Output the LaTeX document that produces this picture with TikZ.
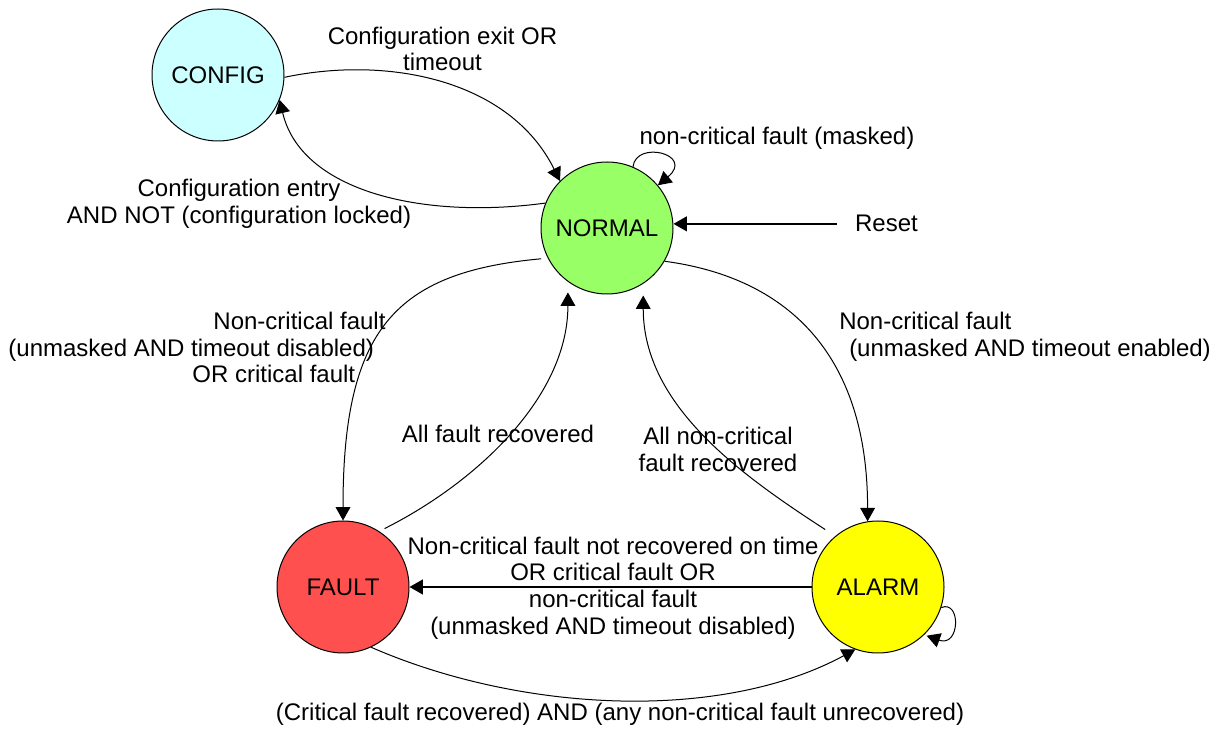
\documentclass[tikz,border=0pt]{standalone}
\usepackage{fontspec}
\setmainfont{Liberation Sans}
\usetikzlibrary{arrows.meta}
\begin{document}
\begin{tikzpicture}[x=0.75pt,y=0.75pt,
  txt/.style={font=\fontsize{18}{20.1}\selectfont},
  state/.style={circle,draw=black,line width=0.75pt,minimum size=99pt,inner sep=0pt,txt},
  lbl/.style={inner sep=0pt,txt},
  edge/.style={line width=0.75pt,-{Triangle[length=10pt,width=11pt]}},
  bold edge/.style={line width=1.5pt,-{Triangle[length=10pt,width=11pt]}}]
\useasboundingbox (0,0) rectangle (1222,729);
\definecolor{cfgc}{RGB}{204,255,255}
\definecolor{normc}{RGB}{153,255,102}
\definecolor{faultc}{RGB}{255,80,80}
\definecolor{alarmc}{RGB}{255,255,0}
% states
\node[state,fill=cfgc]   (config) at (218,654) {CONFIG};
\node[state,fill=normc]  (normal) at (607,501) {NORMAL};
\node[state,fill=faultc] (fault)  at (343,142) {FAULT};
\node[state,fill=alarmc] (alarm)  at (878,142) {ALARM};
% labels
\node[lbl,align=center] (l1) at (442.5,680) {Configuration exit OR\\timeout};
\node[lbl,anchor=base] (l2) at (777,584) {non-critical fault (masked)};
\node[lbl,align=center] (l3) at (239,525.5) {Configuration entry\\AND NOT (configuration locked)};
\node[lbl,anchor=base,inner xsep=13.5pt] (reset) at (886.5,497) {Reset};
\node[lbl,align=left] (l5) at (197,381.5) {\hspace*{153.75pt}Non-critical fault\\(unmasked AND timeout disabled)\\\hspace*{138pt}OR critical fault};
\node[lbl,anchor=base] (l6) at (498,286) {All fault recovered};
\node[lbl,align=left] (l7) at (1025,392) {Non-critical fault\\\hspace*{7.5pt}(unmasked AND timeout enabled)};
\node[lbl,align=center] (l8) at (718,279.5) {All non-critical\\fault recovered};
\node[lbl,align=center] (l9) at (613,141) {Non-critical fault not recovered on time\\OR critical fault OR\\non-critical fault\\(unmasked AND timeout disabled)};
\node[lbl,anchor=base] (l10) at (620,8) {(Critical fault recovered) AND (any non-critical fault unrecovered)};
% connectors
\draw[edge] (config.-2) .. controls +(104,22) and +(-50,101) .. (normal.135);
\draw[edge] (normal.158) .. controls +(-126,-17) and +(21,-90) .. (config.-22);
\draw[edge] (normal.67) .. controls +(3,27) and +(37,31) .. (normal.40);
\draw[bold edge] (reset.west) -- (reset.west -| normal.east);
\draw[edge,shorten <=5pt] (normal.207) .. controls +(-153,-14) and +(0,191) .. (fault.90);
\draw[edge,shorten <=4.5pt,shorten >=8pt] (fault.57) .. controls +(94,47) and +(0,-117) .. (normal.-126);
\draw[edge] (normal.-30) .. controls +(120,-16) and +(0,170) .. (alarm.99);
\draw[edge,shorten <=9pt,shorten >=8.8pt] (alarm.130) .. controls +(-94,61) and +(0,-122) .. (normal.-57);
\draw[bold edge] (alarm) -- (fault);
\draw[edge] (fault.-65) .. controls +(149,-65) and +(-135,-73) .. (alarm.-110);
\draw[edge,shorten >=2pt] (alarm.-18) .. controls +(20,8) and +(36,-13) .. (alarm.-46);
\end{tikzpicture}
\end{document}
